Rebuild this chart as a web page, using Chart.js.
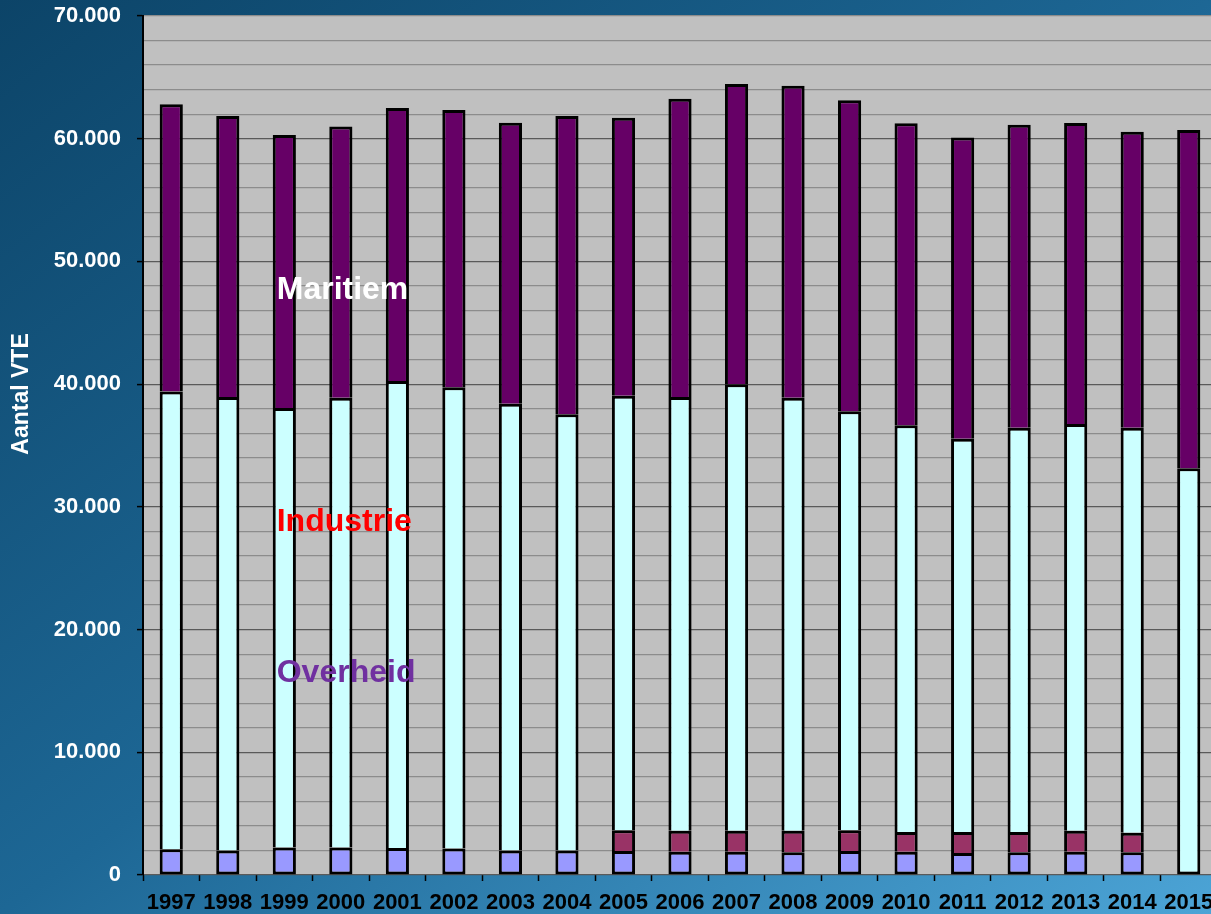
<!DOCTYPE html>
<html>
<head>
<meta charset="utf-8">
<title>Aantal VTE</title>
<script src="https://cdn.jsdelivr.net/npm/chart.js@4/dist/chart.umd.min.js"></script>
<style>
html, body { margin: 0; padding: 0; width: 1211px; height: 914px; overflow: hidden; }
body { background: linear-gradient(to bottom right, #0c4468 0%, #1d6795 50%, #4ca4d6 100%); }
#vteChart { position: absolute; left: 0; top: 0; }
</style>
</head>
<body>
<canvas id="vteChart" width="1217" height="914"></canvas>
<script>
const years = ['1997', '1998', '1999', '2000', '2001', '2002', '2003', '2004', '2005', '2006',
               '2007', '2008', '2009', '2010', '2011', '2012', '2013', '2014', '2015'];

// values (VTE)
const overheid = [2100, 2000, 2250, 2250, 2200, 2150, 2000, 2000, 1950, 1900,
                  1900, 1850, 1950, 1900, 1800, 1850, 1900, 1850, null];
const overig = [null, null, null, null, null, null, null, null, 1700, 1700,
                1700, 1750, 1700, 1600, 1700, 1650, 1700, 1600, null];
const industrie = [37300, 36950, 35800, 36650, 38050, 37600, 36400, 35550, 35400, 35350,
                   36400, 35300, 34150, 33150, 32050, 32950, 33150, 33000, 33150];
const maritiem = [23400, 22900, 22250, 22100, 22250, 22600, 22900, 24300, 22650, 24300,
                  24450, 25420, 25340, 24620, 24540, 24690, 24530, 24120, 27550];

const yMax = 70000;
const yStep = 2000;
const yMajor = 10000;

// text labels inside the plot: [text, colour, y value]
const sectorLabels = [
    ['Maritiem', '#ffffff', 46900],
    ['Industrie', '#ff0000', 28000],
    ['Overheid', '#7030a0', 15700]
];
const axisTitle = 'Aantal VTE';

const FONT = '"Liberation Sans", Arial, sans-serif';
Chart.defaults.font.family = FONT;
Chart.defaults.font.weight = 'bold';

function fmt(v) {
    return v === 0 ? '0' : (v / 1000) + '.000';
}

const plotBackground = {
    id: 'plotBackground',
    beforeDraw(chart) {
        const a = chart.chartArea;
        const ctx = chart.ctx;
        ctx.save();
        ctx.fillStyle = '#c0c0c0';
        ctx.fillRect(a.left, a.top, a.right - a.left, a.bottom - a.top);
        ctx.restore();
    }
};

const sectorText = {
    id: 'sectorText',
    afterDatasetsDraw(chart) {
        const ctx = chart.ctx;
        const a = chart.chartArea;
        const bar = chart.getDatasetMeta(3).data[2];  // 1999 column
        const x = bar.x - bar.width / 2 + 4;
        ctx.save();
        ctx.font = 'bold 32px ' + FONT;
        ctx.textAlign = 'left';
        ctx.textBaseline = 'alphabetic';
        sectorLabels.forEach(function (l) {
            ctx.fillStyle = l[1];
            ctx.fillText(l[0], x, chart.scales.y.getPixelForValue(l[2]));
        });
        // y axis title, a bit above the middle like the original
        ctx.translate(22, a.top + (a.bottom - a.top) * 0.44);
        ctx.rotate(-Math.PI / 2);
        ctx.textAlign = 'center';
        ctx.textBaseline = 'middle';
        ctx.fillStyle = '#ffffff';
        ctx.font = 'bold 23px ' + FONT;
        ctx.fillText(axisTitle, 0, 0);
        ctx.restore();
    }
};

// lowest drawn segment of a column keeps its bottom edge
function skipEdge(c) {
    for (let d = 0; d < c.dataset.order0; d++) {
        if (c.chart.data.datasets[d].data[c.dataIndex] != null) return 'start';
    }
    return false;
}

function barSet(label, data, color, idx) {
    return {
        label: label,
        data: data,
        order0: idx,
        backgroundColor: color,
        borderColor: '#000000',
        borderWidth: 3,
        borderSkipped: skipEdge,
        stack: 'vte',
        barPercentage: 0.41,
        categoryPercentage: 1
    };
}

new Chart(document.getElementById('vteChart'), {
    type: 'bar',
    data: {
        labels: years,
        datasets: [
            barSet('Overheid', overheid, '#9999ff', 0),
            barSet('Overig', overig, '#993366', 1),
            barSet('Industrie', industrie, '#ccffff', 2),
            barSet('Maritiem', maritiem, '#660066', 3)
        ]
    },
    options: {
        responsive: false,
        animation: false,
        layout: { padding: { top: 16, left: 0, right: 0, bottom: 0 } },
        plugins: {
            legend: { display: false },
            tooltip: { enabled: false }
        },
        scales: {
            x: {
                stacked: true,
                afterFit(scale) {
                    scale.height = 39;
                    scale.paddingLeft = 0;
                    scale.paddingRight = 0;
                },
                border: { display: false },
                grid: {
                    offset: true,
                    drawOnChartArea: false,
                    drawTicks: true,
                    tickLength: 6,
                    tickColor: '#000000',
                    tickWidth: 1.5
                },
                ticks: {
                    color: '#000000',
                    font: { size: 22, weight: 'bold' },
                    padding: 9,
                    maxRotation: 0,
                    autoSkip: false
                }
            },
            y: {
                stacked: true,
                min: 0,
                max: yMax,
                afterFit(scale) {
                    scale.width = 143;
                    scale.paddingTop = 0;
                    scale.paddingBottom = 0;
                },
                border: { display: true, color: '#000000', width: 2 },
                grid: {
                    color(c) {
                        const v = c.tick.value;
                        return (v % yMajor === 0 && v !== yMax) ? '#5a5a5a' : '#8c8c8c';
                    },
                    lineWidth: 1.2,
                    drawTicks: true,
                    tickLength: 6,
                    tickColor(c) {
                        return c.tick.value % yMajor === 0 ? '#000000' : 'rgba(0,0,0,0)';
                    },
                    tickWidth: 1.5
                },
                ticks: {
                    stepSize: yStep,
                    color: '#ffffff',
                    font: { size: 22, weight: 'bold' },
                    padding: 16,
                    autoSkip: false,
                    callback(v) { return v % yMajor === 0 ? fmt(v) : ''; }
                }
            }
        }
    },
    plugins: [plotBackground, sectorText]
});
</script>
</body>
</html>
